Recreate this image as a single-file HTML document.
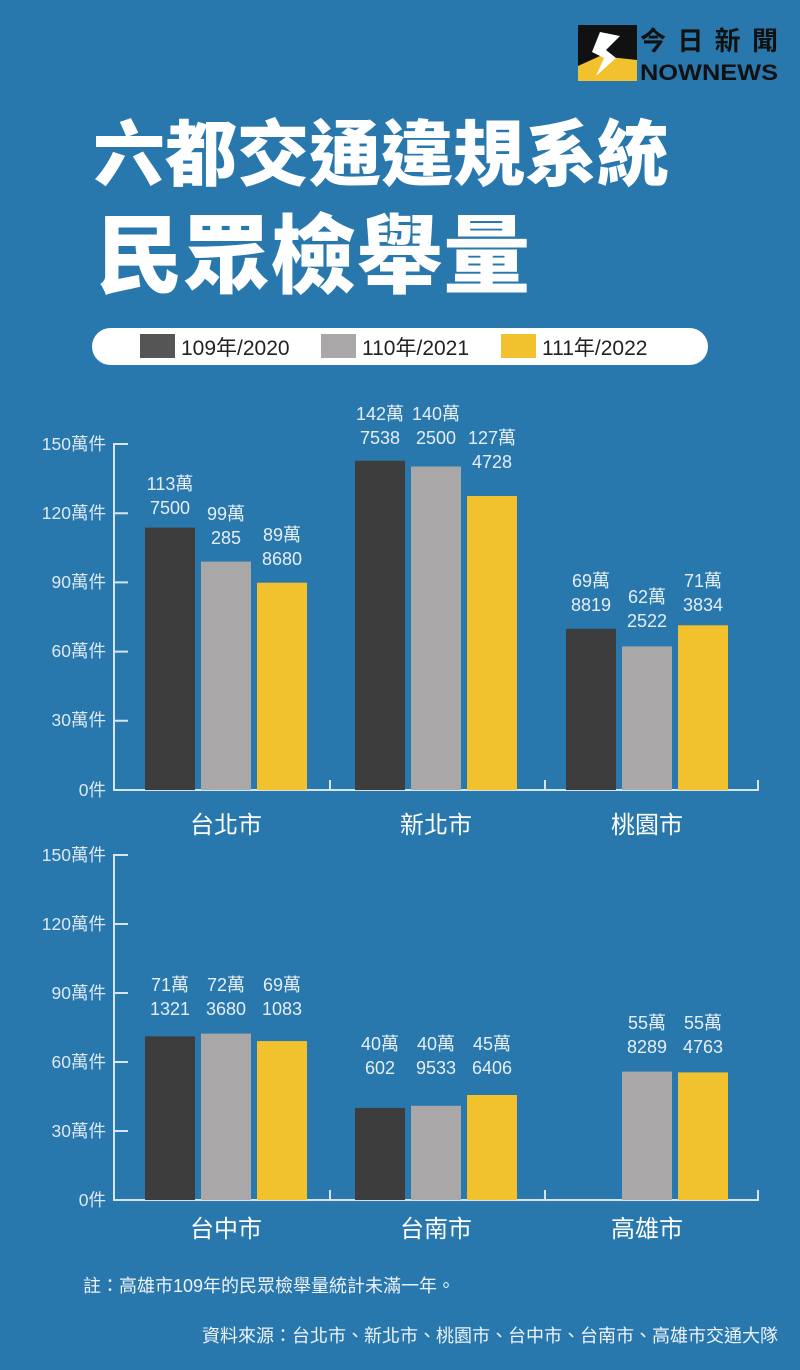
<!DOCTYPE html>
<html><head><meta charset="utf-8"><style>
html,body{margin:0;padding:0;}
body{width:800px;height:1370px;background:#2878ae;overflow:hidden;position:relative;font-family:"Liberation Sans","Noto Sans CJK TC",sans-serif;}
svg{position:absolute;left:0;top:0;}
</style></head><body>
<svg width="800" height="1370" viewBox="0 0 800 1370" xmlns="http://www.w3.org/2000/svg" font-family="Liberation Sans, Noto Sans CJK TC, sans-serif">
<rect width="800" height="1370" fill="#2878ae"/>
<rect x="578" y="25" width="59" height="56" fill="#111"/>
<polygon points="578,66 600,56 637,60 637,81 578,81" fill="#f2c12e"/>
<path d="M600,32 L620,36 L606,50 L616,58 L596,76 L604,58 L592,52 Z" fill="#fff"/>
<text x="640" y="50" font-size="26" font-weight="bold" fill="#111" font-family="Noto Sans CJK TC, sans-serif" textLength="138">今日新聞</text>
<text x="640" y="80" font-size="22" font-weight="bold" fill="#111" textLength="138" lengthAdjust="spacingAndGlyphs">NOWNEWS</text>
<text x="93" y="180" font-size="72" font-weight="900" fill="#fff" font-family="Noto Sans CJK TC, sans-serif" textLength="576" lengthAdjust="spacingAndGlyphs">六都交通違規系統</text>
<text x="96" y="286" font-size="86" font-weight="900" fill="#fff" font-family="Noto Sans CJK TC, sans-serif" textLength="434" lengthAdjust="spacingAndGlyphs">民眾檢舉量</text>
<rect x="92" y="328" width="616" height="37" rx="18.5" fill="#fff"/>
<rect x="140" y="334" width="35" height="24" fill="#555"/>
<text x="181" y="355" font-size="21" fill="#222">109年/2020</text>
<rect x="321" y="334" width="35" height="24" fill="#a9a7a7"/>
<text x="362" y="355" font-size="21" fill="#222">110年/2021</text>
<rect x="501" y="334" width="35" height="24" fill="#f2c12e"/>
<text x="542" y="355" font-size="21" fill="#222">111年/2022</text>

<g stroke="#d6e5f0" stroke-width="2" fill="none">
<path d="M128,444 H114 V790 H758 V780 M330,790 V780 M545,790 V780"/>
<path d="M114,513.2 H128 M114,582.4 H128 M114,651.6 H128 M114,720.8 H128"/>
<path d="M128,855 H114 V1200 H758 V1190 M330,1200 V1190 M545,1200 V1190"/>
<path d="M114,924 H128 M114,993 H128 M114,1062 H128 M114,1131 H128"/>
</g>
<g font-size="17.5" fill="#dde9f2" text-anchor="end">
<text x="106" y="450">150萬件</text><text x="106" y="519">120萬件</text><text x="106" y="588">90萬件</text><text x="106" y="657">60萬件</text><text x="106" y="726">30萬件</text><text x="106" y="796">0件</text>
<text x="106" y="861">150萬件</text><text x="106" y="930">120萬件</text><text x="106" y="999">90萬件</text><text x="106" y="1068">60萬件</text><text x="106" y="1137">30萬件</text><text x="106" y="1206">0件</text>
</g>
<g>
<rect x="145" y="527.6" width="50" height="262.4" fill="#3d3d3d"/>
<rect x="201" y="561.6" width="50" height="228.4" fill="#a9a7a7"/>
<rect x="257" y="582.7" width="50" height="207.3" fill="#f2c12e"/>
<rect x="355" y="460.7" width="50" height="329.3" fill="#3d3d3d"/>
<rect x="411" y="466.5" width="50" height="323.5" fill="#a9a7a7"/>
<rect x="467" y="496" width="50" height="294" fill="#f2c12e"/>
<rect x="566" y="628.8" width="50" height="161.2" fill="#3d3d3d"/>
<rect x="622" y="646.4" width="50" height="143.6" fill="#a9a7a7"/>
<rect x="678" y="625.3" width="50" height="164.7" fill="#f2c12e"/>
<rect x="145" y="1036.4" width="50" height="163.6" fill="#3d3d3d"/>
<rect x="201" y="1033.6" width="50" height="166.4" fill="#a9a7a7"/>
<rect x="257" y="1041.1" width="50" height="158.9" fill="#f2c12e"/>
<rect x="355" y="1107.9" width="50" height="92.1" fill="#3d3d3d"/>
<rect x="411" y="1105.8" width="50" height="94.2" fill="#a9a7a7"/>
<rect x="467" y="1095" width="50" height="105" fill="#f2c12e"/>
<rect x="622" y="1071.6" width="50" height="128.4" fill="#a9a7a7"/>
<rect x="678" y="1072.4" width="50" height="127.6" fill="#f2c12e"/>
</g>
<g font-size="18" fill="#e6eef4" text-anchor="middle">
<text x="170" y="490">113萬</text><text x="170" y="514">7500</text>
<text x="226" y="520">99萬</text><text x="226" y="544">285</text>
<text x="282" y="541">89萬</text><text x="282" y="565">8680</text>
<text x="380" y="420">142萬</text><text x="380" y="444">7538</text>
<text x="436" y="420">140萬</text><text x="436" y="444">2500</text>
<text x="492" y="444">127萬</text><text x="492" y="468">4728</text>
<text x="591" y="587">69萬</text><text x="591" y="611">8819</text>
<text x="647" y="603">62萬</text><text x="647" y="627">2522</text>
<text x="703" y="587">71萬</text><text x="703" y="611">3834</text>
<text x="170" y="991">71萬</text><text x="170" y="1015">1321</text>
<text x="226" y="991">72萬</text><text x="226" y="1015">3680</text>
<text x="282" y="991">69萬</text><text x="282" y="1015">1083</text>
<text x="380" y="1050">40萬</text><text x="380" y="1074">602</text>
<text x="436" y="1050">40萬</text><text x="436" y="1074">9533</text>
<text x="492" y="1050">45萬</text><text x="492" y="1074">6406</text>
<text x="647" y="1029">55萬</text><text x="647" y="1053">8289</text>
<text x="703" y="1029">55萬</text><text x="703" y="1053">4763</text>
</g>
<g font-size="24" fill="#fff" text-anchor="middle">
<text x="226" y="833">台北市</text><text x="436" y="833">新北市</text><text x="647" y="833">桃園市</text>
<text x="226" y="1237">台中市</text><text x="436" y="1237">台南市</text><text x="647" y="1237">高雄市</text>
</g>
<text x="83" y="1292" font-size="18" fill="#eef3f7">註：高雄市109年的民眾檢舉量統計未滿一年。</text>
<text x="778" y="1342" font-size="18" fill="#eef3f7" text-anchor="end">資料來源：台北市、新北市、桃園市、台中市、台南市、高雄市交通大隊</text>
</svg>
</body></html>
